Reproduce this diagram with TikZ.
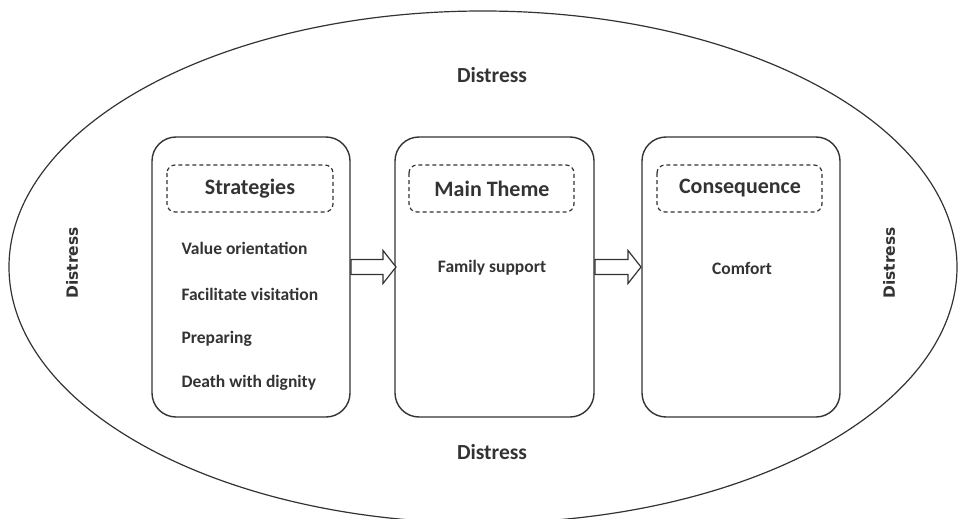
\documentclass[tikz,border=0pt]{standalone}
\usepackage{fontspec}
\setmainfont{Carlito}
\newfontfamily\vfont{DejaVu Sans}
\usetikzlibrary{shapes.arrows}
\definecolor{ink}{HTML}{333333}
\begin{document}
\begin{tikzpicture}[x=1pt,y=-1pt,
  stagebox/.style={draw=ink,line width=1.4pt,rounded corners=24pt},
  dashbox/.style={draw=ink,line width=1.2pt,dashed,dash pattern=on 4pt off 3pt,rounded corners=8pt},
  titletext/.style={font=\fontsize{22}{26}\selectfont\bfseries,text=ink},
  itemtext/.style={font=\fontsize{17.5}{21}\selectfont\bfseries,text=ink,anchor=west},
  distress/.style={font=\fontsize{21.5}{26}\selectfont\bfseries,text=ink},
  vdistress/.style={font=\vfont\fontsize{15.5}{19}\selectfont\bfseries,text=ink,rotate=90},
  fatarrow/.style={draw=ink,line width=1.2pt,fill=white}]
\useasboundingbox (0,0) rectangle (961,519);
\begin{scope}
\clip (0,0) rectangle (961,519);
\draw[ink,line width=1.2pt] (483,267) ellipse [x radius=474, y radius=256];
\end{scope}
% boxes
\draw[stagebox] (152,137) rectangle (350,417);
\draw[stagebox] (395,137) rectangle (594,417);
\draw[stagebox] (642,137) rectangle (840,417);
\node (b1) at (251,277) {};
\node (b2) at (494,277) {};
\node (b3) at (741,277) {};
% dashed title boxes
\draw[dashbox] (167,165) rectangle (333,212);
\draw[dashbox] (409,165) rectangle (574,212);
\draw[dashbox] (657,165) rectangle (822,212);
\node[titletext] (t1) at (250,188.5) {Strategies};
\node[titletext] (t2) at (492,188.5) {Main Theme};
\node[titletext] (t3) at (740,188.5) {Consequence};
% items
\node[itemtext] (i1) at (178,248) {Value orientation};
\node[itemtext] (i2) at (178,294) {Facilitate visitation};
\node[itemtext] (i3) at (178,339) {Preparing};
\node[itemtext] (i4) at (178,383) {Death with dignity};
\node[itemtext,anchor=center] (f) at (492,268) {Family support};
\node[itemtext,anchor=center] (c) at (742,268) {Comfort};
% distress labels
\node[distress] (dt) at (492,75) {Distress};
\node[distress] (db) at (492,452) {Distress};
\node[vdistress] (dl) at (72,263) {Distress};
\node[vdistress] (dr) at (889,263) {Distress};
% arrows
\coordinate (a1s) at (351,267);
\coordinate (a1e) at (396,267);
\coordinate (a2s) at (595,267);
\coordinate (a2e) at (641,267);
\draw[fatarrow] (351,259.5) -- (383,259.5) -- (383,250.5) -- (396,267) -- (383,283.5) -- (383,274.5) -- (351,274.5) -- cycle;
\draw[fatarrow] (595,259.5) -- (628,259.5) -- (628,250.5) -- (641,267) -- (628,283.5) -- (628,274.5) -- (595,274.5) -- cycle;
\end{tikzpicture}
\end{document}
